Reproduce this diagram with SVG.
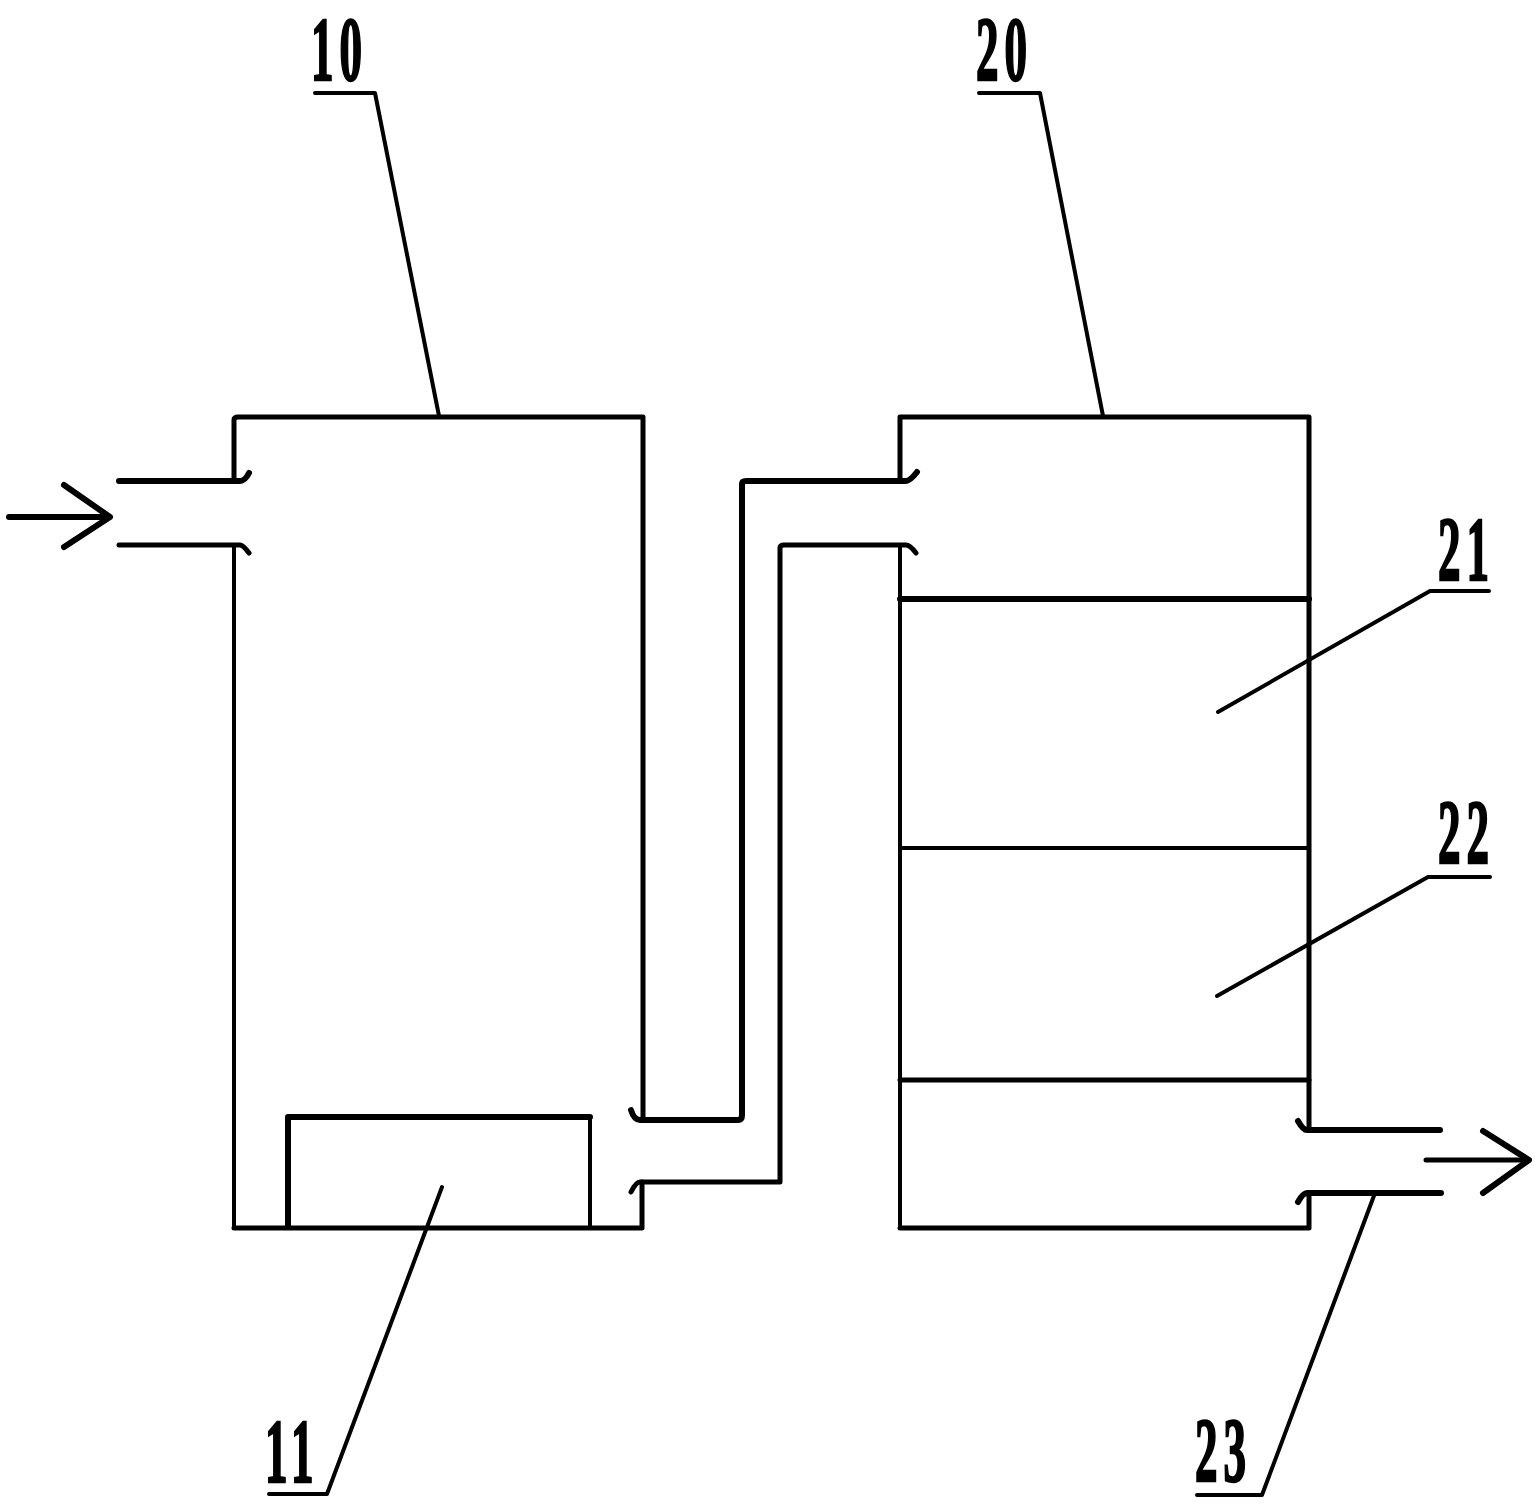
<svg xmlns="http://www.w3.org/2000/svg" width="1535" height="1504" viewBox="0 0 1535 1504">
<style>
.l{fill:none;stroke:#000;stroke-linecap:round;stroke-linejoin:round}
.t{stroke-width:4}.m{stroke-width:5}.b{stroke-width:6}
text{font-family:"Liberation Serif","Times New Roman",serif;font-weight:bold;font-size:90px;letter-spacing:12px;fill:#000;stroke:#000;stroke-width:2.5}
</style>
<rect width="1535" height="1504" fill="#fff"/>
<g id="vessel-10">
<path class="l m" d="M234 480V420Q234 417 238 417H643V1120"/>
<path class="l t" d="M234 545V1228"/>
<path class="l m" d="M234 1228H642V1182"/>
</g>
<g id="part-11">
<path class="l b" d="M288 1227V1117H590"/>
<path class="l t" d="M590 1117V1227"/>
</g>
<g id="vessel-20">
<path class="l m" d="M900 480V417H1309V1130"/>
<path class="l t" d="M900 545V1228"/>
<path class="l m" d="M900 1228H1309V1193"/>
</g>
<g id="layer-21"><path class="l b" d="M900 599H1309"/></g>
<g id="layer-22"><path class="l t" d="M900 848H1309"/></g>
<g id="layer-23"><path class="l m" d="M900 1080H1309"/></g>
<g id="connectors">
<path class="l b" d="M119 481H240Q245 481 249 473"/>
<path class="l m" d="M119 545H240Q243 545 249 553"/>
<path class="l b" d="M9 517H108"/>
<path class="l b" d="M64 485L110 517L64 547"/>
<path class="l b" d="M631 1110Q634 1120 640 1120H738Q742 1120 742 1115V484Q742 481 746 481H906Q910 481 917 472"/>
<path class="l m" d="M631 1192Q636 1182 640 1182H780V548Q780 545 784 545H906Q910 545 916 553"/>
<path class="l b" d="M1298 1121Q1303 1130 1307 1130H1440"/>
<path class="l b" d="M1298 1202Q1303 1193 1307 1193H1441"/>
<path class="l m" d="M1426 1160H1526"/>
<path class="l b" d="M1483 1131L1529 1160L1483 1193"/>
</g>
<g id="leaders">
<path class="l t" d="M315 93H375L439 416"/>
<path class="l t" d="M979 93H1040L1103 416"/>
<path class="l t" d="M1489 591H1430L1218 712"/>
<path class="l t" d="M1490 877H1428L1217 996"/>
<path class="l t" d="M442 1187L327 1494H269"/>
<path class="l t" d="M1375 1193L1262 1495H1197"/>
</g>
<g id="labels">
<text transform="translate(311 80) scale(.5 1)">10</text>
<text transform="translate(976 80) scale(.5 1)">20</text>
<text transform="translate(1438 580) scale(.5 1)">21</text>
<text transform="translate(1438 863) scale(.5 1)">22</text>
<text transform="translate(265 1482) scale(.5 1)">11</text>
<text transform="translate(1195 1481) scale(.5 1)">23</text>
</g>
</svg>
